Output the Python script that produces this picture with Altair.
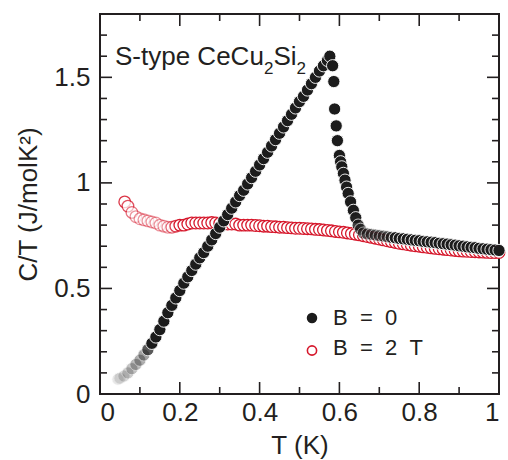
import altair as alt
import pandas as pd

# Specific heat C/T of S-type CeCu2Si2, zero field
T_B0 = [0.045, 0.05, 0.06, 0.07, 0.08, 0.09, 0.10, 0.11, 0.12, 0.13, 0.14, 0.15,
        0.16, 0.17, 0.18, 0.19, 0.20, 0.21, 0.22, 0.23, 0.24, 0.25, 0.26, 0.27,
        0.28, 0.29, 0.30, 0.31, 0.32, 0.33, 0.34, 0.35, 0.36, 0.37, 0.38, 0.39,
        0.40, 0.41, 0.42, 0.43, 0.44, 0.45, 0.46, 0.47, 0.48, 0.49, 0.50, 0.51,
        0.52, 0.53, 0.54, 0.55, 0.56, 0.57, 0.576,
        0.583, 0.586, 0.588, 0.592, 0.595, 0.600, 0.603, 0.606, 0.610, 0.614,
        0.618, 0.622, 0.628, 0.635, 0.641, 0.647, 0.653, 0.660,
        0.67, 0.68, 0.69, 0.70, 0.71, 0.72, 0.73, 0.74, 0.75, 0.76, 0.77, 0.78,
        0.79, 0.80, 0.81, 0.82, 0.83, 0.84, 0.85, 0.86, 0.87, 0.88, 0.89, 0.90,
        0.91, 0.92, 0.93, 0.94, 0.95, 0.96, 0.97, 0.98, 0.99, 1.00]
C_B0 = [0.07, 0.075, 0.085, 0.10, 0.12, 0.14, 0.16, 0.185, 0.21, 0.24, 0.27, 0.305,
        0.345, 0.385, 0.42, 0.455, 0.49, 0.525, 0.555, 0.585, 0.615, 0.645, 0.67, 0.70,
        0.73, 0.76, 0.79, 0.82, 0.85, 0.88, 0.91, 0.94, 0.965, 0.995, 1.025, 1.055,
        1.085, 1.115, 1.145, 1.175, 1.205, 1.235, 1.265, 1.295, 1.325, 1.355, 1.385, 1.41,
        1.44, 1.47, 1.50, 1.53, 1.555, 1.58, 1.60,
        1.555, 1.48, 1.35, 1.27, 1.20, 1.13, 1.10, 1.076, 1.045, 1.013,
        0.98, 0.95, 0.91, 0.87, 0.835, 0.80, 0.78, 0.762,
        0.758, 0.756, 0.753, 0.750, 0.748, 0.745, 0.742, 0.740, 0.737, 0.735, 0.733, 0.730,
        0.728, 0.726, 0.723, 0.721, 0.719, 0.717, 0.714, 0.712, 0.710, 0.707, 0.705, 0.702,
        0.700, 0.697, 0.695, 0.693, 0.690, 0.688, 0.686, 0.684, 0.682, 0.680]

# Same sample in B = 2 T
T_B2 = [0.062, 0.07, 0.08, 0.09, 0.10, 0.11, 0.12, 0.13, 0.14, 0.15, 0.16, 0.17,
        0.18, 0.19, 0.20, 0.21, 0.22, 0.23, 0.24, 0.25, 0.26, 0.27, 0.28, 0.29,
        0.30, 0.31, 0.32, 0.33, 0.34, 0.35, 0.36, 0.37, 0.38, 0.39, 0.40, 0.41,
        0.42, 0.43, 0.44, 0.45, 0.46, 0.47, 0.48, 0.49, 0.50, 0.51, 0.52, 0.53,
        0.54, 0.55, 0.56, 0.57, 0.58, 0.59, 0.60, 0.61, 0.62, 0.63, 0.64, 0.65,
        0.66, 0.67, 0.68, 0.69, 0.70, 0.71, 0.72, 0.73, 0.74, 0.75, 0.76, 0.77,
        0.78, 0.79, 0.80, 0.81, 0.82, 0.83, 0.84, 0.85, 0.86, 0.87, 0.88, 0.89,
        0.90, 0.91, 0.92, 0.93, 0.94, 0.95, 0.96, 0.97, 0.98, 0.99, 1.00]
C_B2 = [0.91, 0.89, 0.86, 0.84, 0.83, 0.825, 0.82, 0.815, 0.81, 0.80, 0.795, 0.79,
        0.79, 0.795, 0.80, 0.80, 0.805, 0.81, 0.81, 0.81, 0.81, 0.81, 0.812, 0.81,
        0.808, 0.806, 0.805, 0.805, 0.805, 0.80, 0.80, 0.80, 0.80, 0.798, 0.797, 0.795,
        0.795, 0.793, 0.792, 0.79, 0.79, 0.788, 0.787, 0.785, 0.785, 0.784, 0.783, 0.782,
        0.78, 0.779, 0.777, 0.775, 0.773, 0.77, 0.768, 0.766, 0.763, 0.76, 0.757, 0.754,
        0.75, 0.746, 0.742, 0.738, 0.734, 0.73, 0.726, 0.722, 0.718, 0.714, 0.711, 0.708,
        0.705, 0.702, 0.70, 0.697, 0.695, 0.692, 0.69, 0.688, 0.686, 0.684, 0.682, 0.68,
        0.678, 0.677, 0.676, 0.675, 0.674, 0.673, 0.672, 0.671, 0.67, 0.67, 0.67]

X_MAJOR = [0, 0.2, 0.4, 0.6, 0.8, 1.0]
X_MINOR = [0.1, 0.3, 0.5, 0.7, 0.9]
Y_MAJOR = [0, 0.5, 1.0, 1.5]
Y_MINOR = [0.1, 0.2, 0.3, 0.4, 0.6, 0.7, 0.8, 0.9, 1.1, 1.2, 1.3, 1.4, 1.6, 1.7]

LEGEND_LABELS = ["B\u00a0\u00a0=\u00a0\u00a00", "B\u00a0\u00a0=\u00a0\u00a02\u00a0\u00a0T"]

W, H = 399, 380
FONT = "Liberation Sans"
INK = "#231f20"
RED = "#d6182c"
DOT = "#1c1c1c"

b0 = pd.DataFrame({"T": T_B0, "C": C_B0})
b2 = pd.DataFrame({"T": T_B2, "C": C_B2})

xs = alt.Scale(domain=[0, 1], nice=False, zero=False)
ys = alt.Scale(domain=[0, 1.8], nice=False)


def x_ticks(values, length):
    """Inward ticks on the bottom and top frame edges."""
    d = pd.DataFrame({"T": values})
    rule = alt.Chart(d).mark_rule(color=INK, strokeWidth=1.6)
    bottom = rule.encode(x=alt.X("T:Q", scale=xs, axis=None),
                         y=alt.value(H), y2=alt.value(H - length))
    top = rule.encode(x=alt.X("T:Q", scale=xs, axis=None),
                      y=alt.value(0), y2=alt.value(length))
    return [bottom, top]


def y_ticks(values, length):
    """Inward ticks on the left and right frame edges."""
    d = pd.DataFrame({"C": values})
    rule = alt.Chart(d).mark_rule(color=INK, strokeWidth=1.6)
    left = rule.encode(y=alt.Y("C:Q", scale=ys, axis=None),
                       x=alt.value(0), x2=alt.value(length))
    right = rule.encode(y=alt.Y("C:Q", scale=ys, axis=None),
                        x=alt.value(W), x2=alt.value(W - length))
    return [left, right]


red = alt.Chart(b2).mark_point(
    shape="circle", filled=False, fill="white", fillOpacity=1,
    stroke=RED, strokeWidth=1.3, size=135,
).encode(
    x=alt.X("T:Q", scale=xs, axis=alt.Axis(
        orient="bottom", values=X_MAJOR, format="~g", ticks=False, tickSize=0,
        domain=False, grid=False, labelFont=FONT, labelFontSize=26,
        labelColor=INK, labelPadding=5, title="T (K)", titleFont=FONT,
        titleFontSize=26, titleFontWeight="normal", titleColor=INK,
        titleX=W / 2, titleY=59, titleBaseline="alphabetic", titleAlign="center")),
    y=alt.Y("C:Q", scale=ys, axis=alt.Axis(
        orient="left", values=Y_MAJOR, format="~g", ticks=False, tickSize=0,
        domain=False, grid=False, labelFont=FONT, labelFontSize=26,
        labelColor=INK, labelPadding=10, title="C/T (J/molK²)", titleFont=FONT,
        titleFontSize=26, titleFontWeight="normal", titleColor=INK,
        titleX=-64, titleY=H / 2, titleAngle=270, titleBaseline="alphabetic",
        titleAlign="center")),
    opacity=alt.Opacity("T:Q", legend=None, scale=alt.Scale(
        domain=[0.06, 0.09, 0.17, 0.2], range=[0.9, 0.45, 0.45, 1])),
)

black = alt.Chart(b0).mark_point(
    shape="circle", filled=True, fill=DOT, stroke="white",
    strokeWidth=0.9, size=150,
).encode(
    x=alt.X("T:Q", scale=xs, axis=None),
    y=alt.Y("C:Q", scale=ys, axis=None),
    opacity=alt.Opacity("T:Q", legend=None, scale=alt.Scale(
        domain=[0.045, 0.119, 0.121, 0.64, 0.66, 0.72, 0.74],
        range=[0.1, 0.45, 1, 1, 0.55, 0.55, 1])),
)

# Compound name with subscripts, set piece by piece
name_parts = pd.DataFrame({
    "txt": ["S-type CeCu", "2", "Si", "2"],
    "px": [15, 164, 173.5, 196.6],
    "py": [51, 60, 51, 60],
    "fs": [26, 17, 26, 17],
})
name = alt.Chart(name_parts).mark_text(
    font=FONT, color=INK, align="left", baseline="alphabetic",
).encode(
    x=alt.X("px:Q", scale=None), y=alt.Y("py:Q", scale=None),
    text="txt:N", size=alt.Size("fs:Q", scale=None, legend=None),
)

legend_text = alt.Chart(pd.DataFrame({"lab": LEGEND_LABELS, "py": [303.5, 334]})).mark_text(
    font=FONT, fontSize=22, color=INK, align="left", baseline="middle",
).encode(x=alt.value(233), y=alt.Y("py:Q", scale=None), text="lab:N")

legend_dot = alt.Chart(pd.DataFrame({"k": [0]})).mark_point(
    shape="circle", filled=True, fill=DOT, stroke=None, size=110, opacity=1,
).encode(x=alt.value(212), y=alt.value(304))

legend_ring = alt.Chart(pd.DataFrame({"k": [0]})).mark_point(
    shape="circle", filled=False, fill="white", stroke=RED, strokeWidth=1.6,
    size=85, opacity=1,
).encode(x=alt.value(212), y=alt.value(336.5))

chart = alt.layer(
    red,
    black,
    *x_ticks(X_MAJOR, 12), *x_ticks(X_MINOR, 7),
    *y_ticks(Y_MAJOR, 12), *y_ticks(Y_MINOR, 7),
    name,
    legend_text,
    legend_dot,
    legend_ring,
).resolve_scale(opacity="independent").resolve_axis(
    x="independent", y="independent"
).properties(
    width=W, height=H,
    autosize=alt.AutoSizeParams(type="none"),
    padding={"left": 100, "top": 14, "right": 9, "bottom": 66},
    background="white",
).configure_view(stroke=INK, strokeWidth=2)

chart.save("out.html", embed_options={"renderer": "svg", "actions": False})
